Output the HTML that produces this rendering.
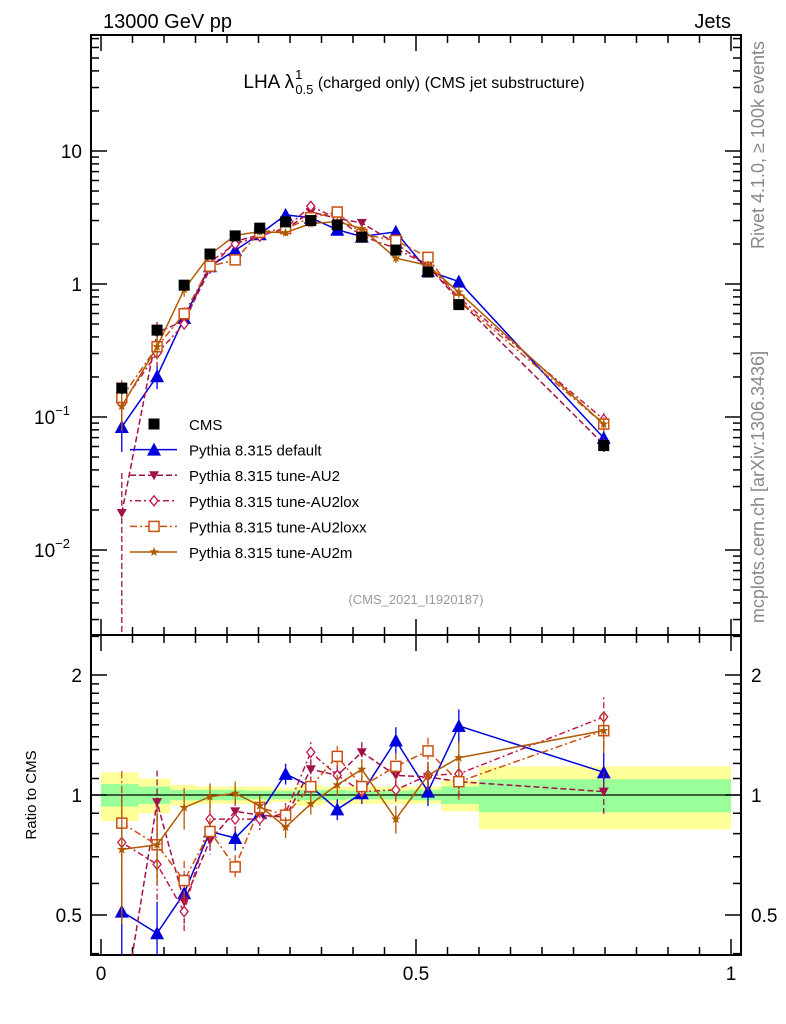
<!DOCTYPE html>
<html><head><meta charset="utf-8"><style>
html,body{margin:0;padding:0;background:#fff;overflow:hidden;width:786px;height:1024px}
svg{display:block}
svg text{font-family:"Liberation Sans",sans-serif}
</style></head><body>
<svg id="c" width="786" height="1024" viewBox="0 0 786 1024" xmlns="http://www.w3.org/2000/svg">
<defs>
<clipPath id="cm"><rect x="91" y="35" width="650" height="600"/></clipPath>
<clipPath id="cr"><rect x="91" y="635" width="650" height="320"/></clipPath>
</defs>
<g id="bands" clip-path="url(#cr)"></g>
<g id="frame"></g>
<g id="mainMarks" clip-path="url(#cm)"></g>
<g id="ratioMarks" clip-path="url(#cr)"></g>
<text x="103" y="28" font-size="20">13000 GeV pp</text>
<text x="731" y="28" font-size="20" text-anchor="end">Jets</text>
<text x="414" y="88" font-size="19" text-anchor="middle">LHA λ<tspan font-size="13" dy="-9" dx="1">1</tspan><tspan font-size="13" dy="15" dx="-7">0.5</tspan><tspan dy="-6" font-size="16"> (charged only) (CMS jet substructure)</tspan></text>
<text x="416" y="604" font-size="13" fill="#999" text-anchor="middle">(CMS_2021_I1920187)</text>
<text transform="translate(764,145) rotate(-90)" font-size="18" fill="#888" text-anchor="middle">Rivet 4.1.0, ≥ 100k events</text>
<text transform="translate(764,487) rotate(-90)" font-size="18" fill="#888" text-anchor="middle">mcplots.cern.ch [arXiv:1306.3436]</text>
<text transform="translate(36,795) rotate(-90)" font-size="15" text-anchor="middle">Ratio to CMS</text>
<g id="legend"></g>
</svg>
<script>
const xCenters=[0.033,0.089,0.132,0.173,0.213,0.252,0.293,0.333,0.375,0.414,0.468,0.519,0.568,0.798];
const binEdges=[0,0.06,0.11,0.15,0.19,0.23,0.27,0.31,0.35,0.39,0.44,0.49,0.54,0.6,1.0];
const cmsValues=[0.165,0.45,0.98,1.68,2.3,2.63,2.93,3.0,2.78,2.25,1.8,1.23,0.70,0.061];
const cmsErr=[0.1,0.06,0.04,0.04,0.03,0.03,0.03,0.03,0.03,0.03,0.04,0.05,0.06,0.1];
const yellowHalf=[0.14,0.1,0.06,0.05,0.05,0.05,0.04,0.06,0.05,0.05,0.05,0.05,0.09,0.18];
const greenHalf=[0.065,0.05,0.03,0.03,0.03,0.025,0.025,0.03,0.03,0.025,0.025,0.03,0.05,0.095];
const ratioDefault=[0.51,0.45,0.567,0.81,0.78,0.90,1.13,1.05,0.92,1.01,1.37,1.02,1.49,1.14];
const ratioAU2=[0.115,0.96,0.54,0.77,0.91,0.89,0.88,1.16,1.12,1.28,1.12,1.11,1.08,1.02];
const ratioAU2lox=[0.76,0.67,0.51,0.87,0.87,0.87,0.90,1.28,1.12,1.02,1.03,1.12,1.13,1.57];
const ratioAU2loxx=[0.85,0.75,0.61,0.81,0.66,0.93,0.89,1.05,1.25,1.05,1.18,1.29,1.08,1.45];
const ratioAU2m=[0.73,0.75,0.93,0.99,1.01,0.94,0.83,0.95,1.06,1.16,0.87,1.12,1.24,1.45];
const modelErr=[0.35,0.2,0.12,0.08,0.07,0.06,0.06,0.06,0.06,0.06,0.08,0.08,0.1,0.12];
const legendLabels=["CMS","Pythia 8.315 default","Pythia 8.315 tune-AU2","Pythia 8.315 tune-AU2lox","Pythia 8.315 tune-AU2loxx","Pythia 8.315 tune-AU2m"];

const NS="http://www.w3.org/2000/svg";
const X=v=>101+630*v;
const YM=v=>Math.min(640,151-133*(Math.log10(v)-1));
const YR=r=>Math.min(1020,Math.max(630,795-120*Math.log2(r)));
function el(tag,attrs,parent){const e=document.createElementNS(NS,tag);for(const k in attrs)e.setAttribute(k,attrs[k]);parent.appendChild(e);return e;}
const frame=document.getElementById('frame');
const bands=document.getElementById('bands');
for(let i=0;i<xCenters.length;i++){
  const x0=X(binEdges[i]),x1=X(binEdges[i+1]);
  const y=el('rect',{x:x0,y:YR(1+yellowHalf[i]),width:x1-x0,height:YR(1-yellowHalf[i])-YR(1+yellowHalf[i]),fill:'#ffff99'},bands);
  
  
  const g=el('rect',{x:x0,y:YR(1+greenHalf[i]),width:x1-x0,height:YR(1-greenHalf[i])-YR(1+greenHalf[i]),fill:'#99ff99'},bands);
  
  
}
el('line',{x1:91,x2:741,y1:YR(1),y2:YR(1),stroke:'#000','stroke-width':1.2},bands);
el('rect',{x:91,y:35,width:650,height:600,fill:'none',stroke:'#000','stroke-width':2},frame);
el('rect',{x:91,y:635,width:650,height:320,fill:'none',stroke:'#000','stroke-width':2},frame);
for(let d=-3;d<=1;d++){for(let m=1;m<10;m++){const v=m*Math.pow(10,d);const y=YM(v);if(y<36||y>634)continue;const L=m==1?16:8;
 el('line',{x1:91,x2:91+L,y1:y,y2:y,stroke:'#000','stroke-width':1.5},frame);
 el('line',{x1:741,x2:741-L,y1:y,y2:y,stroke:'#000','stroke-width':1.5},frame);}}
const yl=[["10",10],["1",1],["10",0.1,"−1"],["10",0.01,"−2"]];
yl.forEach(a=>{const t=el('text',{x:a[2]?70:82,y:YM(a[1])+7,'font-size':19,'text-anchor':'end'},document.getElementById('c'));t.textContent=a[0];
 
 
 if(a[2]){const s=el('tspan',{'font-size':13,dy:-9},t);s.textContent=a[2];}});
[0.4,0.5,0.6,0.7,0.8,0.9,1,1.1,1.2,1.3,1.4,1.5,1.6,1.7,1.8,1.9,2,2.5].forEach(r=>{const y=YR(r);if(y<636||y>954)return;const L=(r==0.5||r==1||r==2)?16:8;
 el('line',{x1:91,x2:91+L,y1:y,y2:y,stroke:'#000','stroke-width':1.5},frame);
 el('line',{x1:741,x2:741-L,y1:y,y2:y,stroke:'#000','stroke-width':1.5},frame);});
[["2",2],["1",1],["0.5",0.5]].forEach(a=>{[[82,'end'],[751,'start']].forEach(p=>{const t=el('text',{x:p[0],y:YR(a[1])+7,'font-size':19,'text-anchor':p[1]},document.getElementById('c'));t.textContent=a[0];
 
 });});
for(let i=0;i<=20;i++){const v=i/20;const x=X(v);const L=(i%10==0)?16:8;
 [[35,1],[635,-1],[635,1],[955,-1]].forEach(p=>el('line',{x1:x,x2:x,y1:p[0],y2:p[0]+p[1]*L,stroke:'#000','stroke-width':1.5},frame));}
[["0",0],["0.5",0.5],["1",1]].forEach(a=>{const t=el('text',{x:X(a[1]),y:980,'font-size':19,'text-anchor':'middle'},document.getElementById('c'));t.textContent=a[0];
 
 });

const series=[
 {name:'default',r:ratioDefault,c:'#0000dd',dash:'',m:'tri'},
 {name:'au2',r:ratioAU2,c:'#a0104a',dash:'6,3',m:'tridown'},
 {name:'au2lox',r:ratioAU2lox,c:'#c01848',dash:'2,3,6,3',m:'diamond'},
 {name:'au2loxx',r:ratioAU2loxx,c:'#cc5010',dash:'7,3,2,3',m:'square'},
 {name:'au2m',r:ratioAU2m,c:'#b05a00',dash:'',m:'star'}];
function marker(type,x,y,c,parent){
 if(type=='cms')return el('rect',{x:x-5.5,y:y-5.5,width:11,height:11,fill:'#000'},parent);
 if(type=='tri')return el('polygon',{points:`${x},${y-7} ${x-7},${y+6} ${x+7},${y+6}`,fill:c},parent);
 if(type=='tridown')return el('polygon',{points:`${x},${y+5} ${x-5},${y-4} ${x+5},${y-4}`,fill:c},parent);
 if(type=='diamond')return el('polygon',{points:`${x},${y-5} ${x-4},${y} ${x},${y+5} ${x+4},${y}`,fill:'#fff',stroke:c,'stroke-width':1.3},parent);
 if(type=='square')return el('rect',{x:x-5,y:y-5,width:10,height:10,fill:'#fff',stroke:c,'stroke-width':1.5},parent);
 if(type=='star'){let p=[];for(let k=0;k<10;k++){const a=-Math.PI/2+k*Math.PI/5,rr=k%2?2:5;p.push((x+rr*Math.cos(a)).toFixed(1)+','+(y+rr*Math.sin(a)).toFixed(1));}return el('polygon',{points:p.join(' '),fill:c},parent);}
}
const mainG=document.getElementById('mainMarks'),ratG=document.getElementById('ratioMarks');
series.forEach(s=>{
 const vals=s.r.map((r,i)=>r*cmsValues[i]);
 const lm=el('polyline',{points:vals.map((v,i)=>X(xCenters[i])+','+YM(v)).join(' '),fill:'none',stroke:s.c,'stroke-width':1.5,'stroke-dasharray':s.dash},mainG);
 
 
 const lr=el('polyline',{points:s.r.map((r,i)=>X(xCenters[i])+','+YR(r)).join(' '),fill:'none',stroke:s.c,'stroke-width':1.5,'stroke-dasharray':s.dash},ratG);
 
 
 vals.forEach((v,i)=>{const x=X(xCenters[i]);const e=s.name=='au2'&&i==0?0.999:modelErr[i];
  el('line',{x1:x,x2:x,y1:YM(v*(1+e)),y2:YM(Math.max(v*(1-e),1e-5)),stroke:s.c,'stroke-width':1.3,'stroke-dasharray':s.dash},mainG);
  el('line',{x1:x,x2:x,y1:YR(s.r[i]*(1+e)),y2:YR(Math.max(s.r[i]*(1-e),1e-5)),stroke:s.c,'stroke-width':1.3,'stroke-dasharray':s.dash},ratG);
  const mk=marker(s.m,x,YM(v),s.c,mainG);
  
  
  const mr=marker(s.m,x,YR(s.r[i]),s.c,ratG);
  
  
 });
});
cmsValues.forEach((v,i)=>{const x=X(xCenters[i]);
 el('line',{x1:x,x2:x,y1:YM(v*(1+cmsErr[i])),y2:YM(v*(1-cmsErr[i])),stroke:'#000','stroke-width':1.5},mainG);
 const m=marker('cms',x,YM(v),'#000',mainG);
 
 });
const lg=document.getElementById('legend');
legendLabels.forEach((lab,i)=>{const y=424+i*25.6;
 if(i>0){const s=series[i-1];el('line',{x1:130,x2:177,y1:y,y2:y,stroke:s.c,'stroke-width':1.5,'stroke-dasharray':s.dash},lg);marker(s.m,154,y,s.c,lg);}
 else marker('cms',154,y,'#000',lg);
 const t=el('text',{x:189,y:y+6,'font-size':15},lg);t.textContent=lab;
 
 });
</script>
</body></html>
